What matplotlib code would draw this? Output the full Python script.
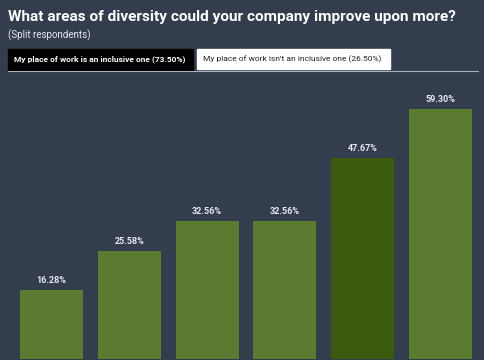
import matplotlib
matplotlib.use("Agg")
import matplotlib.pyplot as plt
from matplotlib.patches import Rectangle

plt.rcParams['font.family'] = ['Roboto', 'DejaVu Sans']

title = "What areas of diversity could your company improve upon more?"
subtitle = "(Split respondents)"
tabs = ["My place of work is an inclusive one (73.50%)",
        "My place of work isn't an inclusive one (26.50%)"]
values = [16.28, 25.58, 32.56, 32.56, 47.67, 59.30]
labels = ["16.28%", "25.58%", "32.56%", "32.56%", "47.67%", "59.30%"]
highlight = 4

bg = "#333d4e"
green = "#5b7b31"
dark_green = "#3a5a0d"

fig = plt.figure(figsize=(4.85, 3.6), dpi=100, facecolor=bg)

ax = fig.add_axes([0, 0, 1, 280 / 360])
ax.set_facecolor(bg)
colors = [dark_green if i == highlight else green for i in range(len(values))]
x = list(range(len(values)))
bars = ax.bar(x, values, width=0.81, color=colors)
for xi, v, lab in zip(x, values, labels):
    ax.text(xi, v + 1.2, lab, ha="center", va="bottom", color="#e8e8ee",
            fontsize=6.5, fontweight="bold")
ax.set_xlim(-0.662, 5.572)
ax.set_ylim(-0.3, 66.1)
ax.axis("off")

# header
fig.text(8 / 485, 1 - 17 / 360, title, ha="left", va="center", color="white",
         fontsize=11.05, fontweight="bold")
fig.text(8 / 485, 1 - 35 / 360, subtitle, ha="left", va="center", color="#e8e8ee",
         fontsize=7)

fig.patches.append(Rectangle((8 / 485, 1 - 70 / 360), 185 / 485, 21 / 360,
                             transform=fig.transFigure, color="black", zorder=1))
fig.patches.append(Rectangle((197 / 485, 1 - 69 / 360), 193 / 485, 20 / 360,
                             transform=fig.transFigure, color="white", zorder=1))
fig.add_artist(plt.Line2D([8 / 485, 478 / 485], [1 - 70.5 / 360, 1 - 70.5 / 360],
                          transform=fig.transFigure, color="#a9b0bc", lw=0.8))
fig.text(14 / 485, 1 - 59.5 / 360, tabs[0], ha="left", va="center", color="white",
         fontsize=6, fontweight="bold")
fig.text(203 / 485, 1 - 59.5 / 360, tabs[1], ha="left", va="center", color="#222222",
         fontsize=6)

fig.savefig("out.png", dpi=100, facecolor=bg)
